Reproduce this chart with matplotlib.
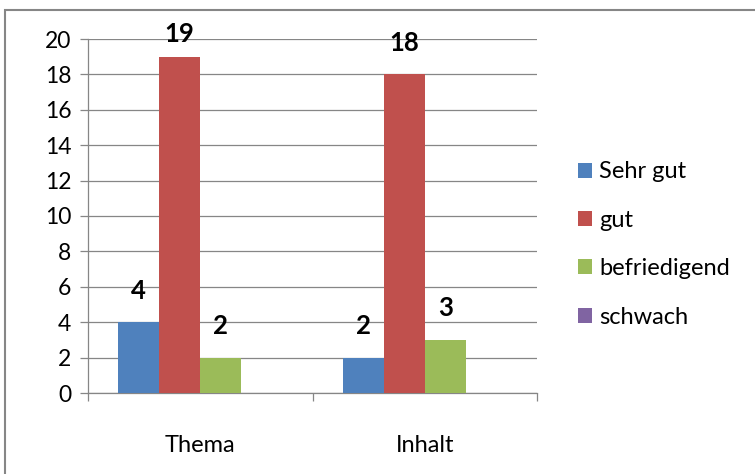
import matplotlib
matplotlib.use("Agg")
import matplotlib.pyplot as plt
from matplotlib.patches import Rectangle
import numpy as np

categories = ["Thema", "Inhalt"]
series_names = ["Sehr gut", "gut", "befriedigend", "schwach"]
sehr_gut = [4, 2]
gut = [19, 18]
befriedigend = [2, 3]
schwach = [0, 0]
y_ticks = [0, 2, 4, 6, 8, 10, 12, 14, 16, 18, 20]

colors = ["#4F81BD", "#C0504D", "#9BBB59", "#8064A2"]
plt.rcParams['font.family'] = ['Lato', 'DejaVu Sans']

fig = plt.figure(figsize=(7.55, 4.74), dpi=100)
ax = fig.add_axes([88 / 755, 1 - 393 / 474, (537 - 88) / 755, (393 - 39) / 474])

x = np.arange(len(categories))
w = 0.183
all_series = [sehr_gut, gut, befriedigend, schwach]
for i, vals in enumerate(all_series):
    bars = ax.bar(x + (i - 1.5) * w, vals, w, color=colors[i], label=series_names[i], zorder=3)
    for b, v in zip(bars, vals):
        if v > 0:
            # keep the top label inside the chart, like excel does
            off = 14 if v < 19 else 8
            ax.annotate(str(v), (b.get_x() + b.get_width() / 2, v), xytext=(0, off),
                        textcoords="offset points", ha="center", va="bottom",
                        fontsize=18.5, fontweight="bold", color="black")

ax.set_xlim(-0.5, 1.5)
ax.set_ylim(0, 20)
ax.set_yticks(y_ticks)
ax.yaxis.grid(True, color="#868686", linewidth=0.9, zorder=0)
ax.set_xticks([-0.5, 0.5, 1.5])
ax.set_xticklabels([])
ax.set_xticks(x, minor=True)
ax.set_xticklabels(categories, minor=True)
ax.tick_params(axis="x", which="major", length=6, color="#868686", width=0.9)
ax.tick_params(axis="x", which="minor", length=0, pad=30, labelsize=17)
ax.tick_params(axis="y", length=6, color="#868686", width=0.9, labelsize=16.5, pad=6)
for s in ["top", "right"]:
    ax.spines[s].set_visible(False)
for s in ["left", "bottom"]:
    ax.spines[s].set_color("#868686")
    ax.spines[s].set_linewidth(0.9)

ax.legend(loc="center left", bbox_to_anchor=(578 / 755, 1 - 244.5 / 474),
          bbox_transform=fig.transFigure, frameon=False, fontsize=17,
          handlelength=0.6, handleheight=0.6, handletextpad=0.3,
          labelspacing=1.16, borderpad=0, borderaxespad=0)

fig.patches.append(Rectangle((5 / 755, -0.1), 1.2, 1.1 - 10 / 474, fill=False,
                             edgecolor="#868686", linewidth=1.5,
                             transform=fig.transFigure, figure=fig))

fig.savefig("out.png", dpi=100)
